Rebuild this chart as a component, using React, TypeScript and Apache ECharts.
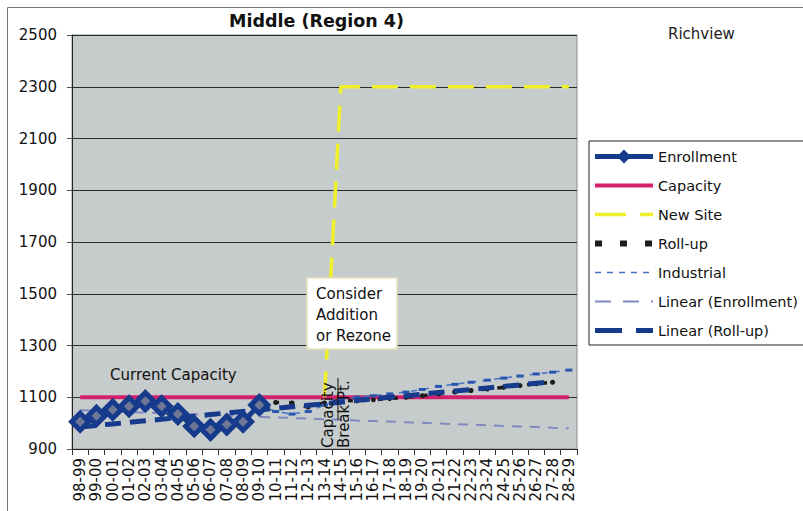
import React, { useEffect, useRef } from "react";
import * as echarts from "echarts";

const FONT = '"DejaVu Sans", Verdana, sans-serif';

const categories = [
  "98-99", "99-00", "00-01", "01-02", "02-03", "03-04", "04-05", "05-06", "06-07", "07-08",
  "08-09", "09-10", "10-11", "11-12", "12-13", "13-14", "14-15", "15-16", "16-17", "17-18",
  "18-19", "19-20", "20-21", "21-22", "22-23", "23-24", "24-25", "25-26", "26-27", "27-28", "28-29",
];

const enrollment = [
  1005, 1028, 1052, 1065, 1085, 1065, 1035, 988, 974, 995, 1005, 1070,
  null, null, null, null, null, null, null, null, null, null, null, null, null, null, null, null, null, null, null,
];

const capacity = [
  1100, 1100, 1100, 1100, 1100, 1100, 1100, 1100, 1100, 1100, 1100, 1100, 1100, 1100, 1100, 1100,
  1100, 1100, 1100, 1100, 1100, 1100, 1100, 1100, 1100, 1100, 1100, 1100, 1100, 1100, 1100,
];

const newSite = [
  null, null, null, null, null, null, null, null, null, null, null, null, null, null, null,
  1100, 2300, 2300, 2300, 2300, 2300, 2300, 2300, 2300, 2300, 2300, 2300, 2300, 2300, 2300, 2300,
];

const rollUp = [
  null, null, null, null, null, null, null, null, null, null, null,
  1070, 1080, 1078, 1062, 1078, 1088, 1086, 1090, 1095, 1100, 1106, 1113, 1120, 1126, 1132, 1138,
  1145, 1152, 1158, null,
];

const industrial = [
  null, null, null, null, null, null, null, null, null, null, null,
  1070, 1045, 1035, 1045, 1070, 1092, 1100, 1106, 1113, 1120, 1130, 1142, 1150, 1158, 1166, 1174,
  1182, 1190, 1197, 1205,
];

const linearEnrollment = [
  1050, 1048, 1045, 1043, 1041, 1038, 1036, 1034, 1031, 1029, 1027, 1024, 1022, 1020, 1017, 1015,
  1013, 1010, 1008, 1006, 1003, 1001, 999, 996, 994, 992, 989, 987, 985, 982, 980,
];

const linearRollUp = [
  985, 991, 997, 1003, 1009, 1015, 1021, 1027, 1033, 1039, 1045, 1051, 1057, 1063, 1069, 1075,
  1081, 1088, 1094, 1100, 1106, 1112, 1118, 1124, 1130, 1136, 1142, 1148, 1154, 1160, null,
];

const NAVY = "#173b8c";
const MAGENTA = "#d3206b";
const YELLOW = "#f0f02a";
const DARK = "#1c1c1c";
const IND = "#4270c4";
const LAV = "#8088c0";

export default function App() {
  const ref = useRef<HTMLDivElement>(null);

  useEffect(() => {
    if (!ref.current) return;
    const chart = echarts.init(ref.current, null, { renderer: "svg" });
    const hidden = { opacity: 0 };
    const option: any = {
      animation: false,
      backgroundColor: "#ffffff",
      textStyle: { fontFamily: FONT },
      title: {
        text: "Middle (Region 4)",
        left: 229,
        top: 12,
        padding: 0,
        textStyle: { fontFamily: FONT, fontSize: 17.5, fontWeight: "bold", color: "#111" },
      },
      legend: {
        orient: "vertical",
        left: 589,
        top: 141,
        padding: [8, 10, 7, 3],
        itemGap: 14,
        itemWidth: 58,
        itemHeight: 14,
        borderColor: "#222",
        borderWidth: 1,
        backgroundColor: "#ffffff",
        textStyle: { fontFamily: FONT, fontSize: 14.5, color: "#111" },
        data: [
          { name: "Enrollment", lineStyle: { width: 5, color: NAVY }, itemStyle: { color: NAVY, borderColor: NAVY } },
          { name: "Capacity", lineStyle: { width: 4, color: MAGENTA }, itemStyle: hidden },
          { name: "New Site", lineStyle: { width: 3.5, color: YELLOW, type: [31, 14] }, itemStyle: hidden },
          { name: "Roll-up", lineStyle: { width: 6, color: DARK, type: [7, 18] }, itemStyle: hidden },
          { name: "Industrial", lineStyle: { width: 1.5, color: IND, type: [6, 6] }, itemStyle: hidden },
          { name: "Linear (Enrollment)", lineStyle: { width: 2, color: LAV, type: [16, 12] }, itemStyle: hidden },
          { name: "Linear (Roll-up)", lineStyle: { width: 5, color: NAVY, type: [27, 14] }, itemStyle: hidden },
        ],
      },
      grid: {
        left: 72,
        right: 226,
        top: 35,
        bottom: 62,
        show: true,
        backgroundColor: "#c6cccc",
        borderColor: "#8a8f8f",
        borderWidth: 1,
        containLabel: false,
        outerBoundsMode: "none",
      },
      xAxis: {
        type: "category",
        data: categories,
        boundaryGap: true,
        axisLine: { show: true, lineStyle: { color: "#222", width: 1 } },
        axisTick: { show: true, length: 6, lineStyle: { color: "#333" } },
        axisLabel: {
          rotate: 90,
          interval: 0,
          fontFamily: FONT,
          fontSize: 15,
          color: "#111",
          margin: 9,
        },
        splitLine: { show: false },
      },
      yAxis: {
        type: "value",
        min: 900,
        max: 2500,
        interval: 200,
        axisLine: { show: true, lineStyle: { color: "#222", width: 1 } },
        axisTick: { show: true, length: 5, lineStyle: { color: "#555" } },
        axisLabel: {
          fontFamily: FONT,
          fontSize: 15,
          color: "#111",
          margin: 15,
          formatter: (v: number) => String(v),
        },
        splitLine: { show: true, lineStyle: { color: "#2a2a2a", width: 1 } },
      },
      series: [
        {
          name: "Capacity",
          type: "line",
          data: capacity,
          symbol: "none",
          color: MAGENTA,
          lineStyle: { color: MAGENTA, width: 4 },
          z: 2,
        },
        {
          name: "New Site",
          type: "line",
          data: newSite,
          symbol: "none",
          color: YELLOW,
          lineStyle: { color: YELLOW, width: 3.5, type: [26, 12] },
          z: 2,
        },
        {
          name: "Roll-up",
          type: "line",
          data: rollUp,
          symbol: "circle",
          symbolSize: 5,
          color: DARK,
          itemStyle: { color: DARK },
          lineStyle: { color: DARK, width: 3.5, type: [5, 10] },
          z: 2,
        },
        {
          name: "Industrial",
          type: "line",
          data: industrial,
          symbol: "rect",
          symbolSize: [7, 3],
          color: IND,
          itemStyle: { color: "#2a56b0" },
          lineStyle: { color: IND, width: 1.5, type: [6, 6] },
          z: 2,
        },
        {
          name: "Linear (Enrollment)",
          type: "line",
          data: linearEnrollment,
          symbol: "none",
          color: LAV,
          lineStyle: { color: LAV, width: 2, type: [10, 8] },
          z: 2,
        },
        {
          name: "Linear (Roll-up)",
          type: "line",
          data: linearRollUp,
          symbol: "none",
          color: NAVY,
          lineStyle: { color: NAVY, width: 5, type: [16, 9] },
          z: 3,
        },
        {
          name: "Enrollment",
          type: "line",
          data: enrollment,
          symbol: "diamond",
          symbolSize: 17,
          color: NAVY,
          itemStyle: { color: "#6e7896", borderColor: NAVY, borderWidth: 5 },
          lineStyle: { color: NAVY, width: 5 },
          z: 4,
        },
      ],
      graphic: [
        {
          type: "line",
          shape: { x1: 7.5, y1: 7.5, x2: 7.5, y2: 511 },
          style: { stroke: "#777", lineWidth: 1 },
        },
        {
          type: "line",
          shape: { x1: 7.5, y1: 7.5, x2: 803, y2: 7.5 },
          style: { stroke: "#777", lineWidth: 1 },
        },
        {
          type: "text",
          left: 668,
          top: 26,
          style: { text: "Richview", fontFamily: FONT, fontSize: 15, fill: "#222" },
        },
        {
          type: "text",
          left: 110,
          top: 367,
          z: 10,
          style: { text: "Current Capacity", fontFamily: FONT, fontSize: 15, fill: "#111" },
        },
        {
          type: "rect",
          shape: { x: 307, y: 278, width: 90, height: 71 },
          style: { fill: "#ffffff", stroke: "#e6e2b8", lineWidth: 1.5 },
          z: 10,
        },
        {
          type: "text",
          x: 316,
          y: 283,
          z: 11,
          style: {
            text: "Consider\nAddition\nor Rezone",
            fontFamily: FONT,
            fontSize: 15,
            lineHeight: 21,
            fill: "#111",
            align: "left",
            verticalAlign: "top",
          },
        },
        {
          type: "line",
          shape: { x1: 338, y1: 378, x2: 338, y2: 420 },
          style: { stroke: "#111", lineWidth: 1 },
          z: 10,
        },
        {
          type: "text",
          x: 320,
          y: 448,
          rotation: Math.PI / 2,
          z: 11,
          style: {
            text: "Capacity\nBreak Pt.",
            fontFamily: FONT,
            fontSize: 15,
            lineHeight: 16,
            fill: "#111",
            align: "left",
            verticalAlign: "top",
          },
        },
      ],
    };
    chart.setOption(option);
    return () => chart.dispose();
  }, []);

  return (
    <div
      ref={ref}
      style={{ position: "absolute", left: 0, top: 0, width: 803, height: 511 }}
    />
  );
}
